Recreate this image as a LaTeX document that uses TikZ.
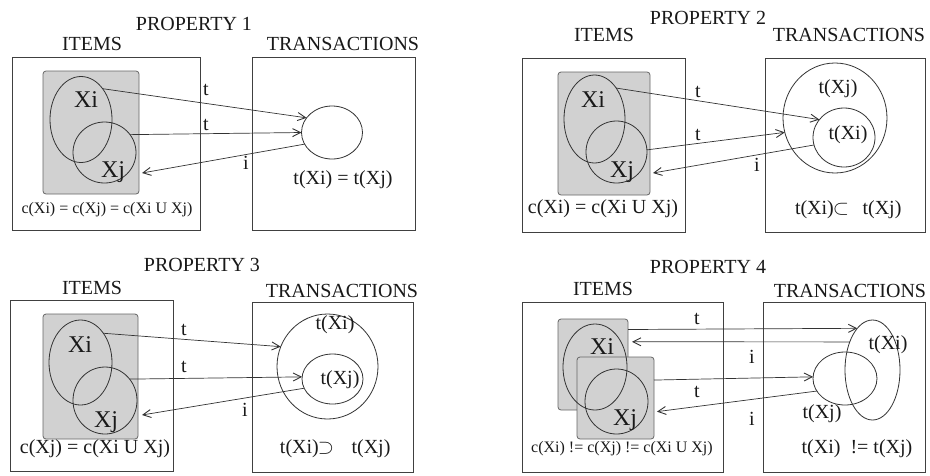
\documentclass[tikz,border=0pt]{standalone}
\usepackage{fontspec}
\setmainfont{Liberation Serif}
\usetikzlibrary{shapes.geometric,arrows.meta}
\begin{document}
\begin{tikzpicture}[x=1pt,y=-1pt,
  txt/.style={font=\fontsize{20}{22}\selectfont, inner sep=0pt, text=black!90},
  big/.style={font=\fontsize{24}{26}\selectfont, inner sep=0pt, text=black!90},
  small/.style={font=\fontsize{16}{18}\selectfont, inner sep=0pt, text=black!90},
  panel/.style={draw=black!75, line width=0.8pt, inner sep=0pt, outer sep=0pt},
  shade/.style={draw=black!60, fill=black!18, line width=0.8pt, rounded corners=3pt, inner sep=0pt, outer sep=0pt},
  oval/.style={ellipse, draw=black!80, line width=0.8pt, inner sep=0pt, outer sep=0pt},
  arr/.style={draw=black!80, line width=0.7pt, -{Straight Barb[length=8pt,width=8pt,line width=0.9pt]}},
]
\useasboundingbox[fill=white] (0,0) rectangle (930,475);

% ---------------- PROPERTY 1 ----------------
\node[txt] (p1title) at (194,24) {PROPERTY 1};
\node[txt] (p1ilab) at (92,44) {ITEMS};
\node[txt] (p1tlab) at (343,44) {TRANSACTIONS};
\node[panel, minimum width=188, minimum height=173] (p1items) at (106,143.5) {};
\node[panel, minimum width=163, minimum height=173] (p1trans) at (333.5,143.5) {};
\node[shade, minimum width=96, minimum height=123] (p1g) at (91,132.5) {};
\node[oval, minimum width=62, minimum height=86] (p1xi) at (81,119.5) {};
\node[oval, minimum width=63, minimum height=61] (p1xj) at (104.5,152.5) {};
\node[big] (p1xil) at (86,100) {Xi};
\node[big] (p1xjl) at (113,172) {Xj};
\node[oval, minimum width=61, minimum height=53] (p1tc) at (332,132.5) {};
\node[txt] (p1tt) at (343,180) {t(Xi) = t(Xj)};
\node[small] (p1c) at (107,210) {c(Xi) = c(Xj) = c(Xi U Xj)};
\coordinate (p1ie) at (142,173);
\draw[arr] (p1xi.55) -- (p1tc.150);
\draw[arr] (p1xj.35) -- (p1tc.180);
\draw[arr] (p1tc.203) -- (p1ie);
\node[txt] (p1l1) at (206,90) {t};
\node[txt] (p1l2) at (206,125) {t};
\node[txt] (p1l3) at (246,163) {i};

% ---------------- PROPERTY 2 ----------------
\node[txt] (p2title) at (708,18) {PROPERTY 2};
\node[txt] (p2ilab) at (604,35) {ITEMS};
\node[txt] (p2tlab) at (849,35) {TRANSACTIONS};
\node[panel, minimum width=163, minimum height=174] (p2items) at (603.5,145) {};
\node[panel, minimum width=160, minimum height=174] (p2trans) at (845,145) {};
\node[shade, minimum width=92, minimum height=123] (p2g) at (604,133.5) {};
\node[oval, minimum width=61, minimum height=88] (p2xi) at (594.5,119) {};
\node[oval, minimum width=61, minimum height=62] (p2xj) at (616.5,152) {};
\node[big] (p2xil) at (593,100) {Xi};
\node[big] (p2xjl) at (622,172) {Xj};
\node[oval, minimum width=104, minimum height=110] (p2tb) at (835,118) {};
\node[oval, minimum width=62, minimum height=59] (p2ts) at (844,137.5) {};
\node[txt] (p2tbl) at (838,89) {t(Xj)};
\node[txt] (p2tsl) at (848,135) {t(Xi)};
\node[txt] (p2c) at (603,209) {c(Xi) = c(Xi U Xj)};
\node[txt] (p2r1) at (822,210) {t(Xi)\kern-1pt$\subset$};
\node[txt] (p2r2) at (882,210) {t(Xj)};
\coordinate (p2ie) at (653,173);
\draw[arr] (p2xi.55) -- (p2ts.144);
\draw[arr] (p2xj.4) -- (p2tb.196);
\draw[arr] (p2ts.194) -- (p2ie);
\node[txt] (p2l1) at (698,92) {t};
\node[txt] (p2l2) at (698,135) {t};
\node[txt] (p2l3) at (757,165) {i};

% ---------------- PROPERTY 3 ----------------
\node[txt] (p3title) at (202,265) {PROPERTY 3};
\node[txt] (p3ilab) at (92,288) {ITEMS};
\node[txt] (p3tlab) at (342,291) {TRANSACTIONS};
\node[panel, minimum width=163, minimum height=171] (p3items) at (91.5,385.5) {};
\node[panel, minimum width=161, minimum height=170] (p3trans) at (332.5,387) {};
\node[shade, minimum width=95, minimum height=125] (p3g) at (90.5,376.5) {};
\node[oval, minimum width=63, minimum height=85] (p3xi) at (80.5,362.5) {};
\node[oval, minimum width=64, minimum height=67] (p3xj) at (105,400.5) {};
\node[big] (p3xil) at (80,345) {Xi};
\node[big] (p3xjl) at (106,422) {Xj};
\node[oval, minimum width=101, minimum height=105] (p3tb) at (327.5,366.5) {};
\node[oval, minimum width=61, minimum height=50] (p3ts) at (332.5,379) {};
\node[txt] (p3tbl) at (335,325) {t(Xi)};
\node[txt] (p3tsl) at (340,380) {t(Xj)};
\node[txt] (p3c) at (95,449) {c(Xj) = c(Xi U Xj)};
\node[txt] (p3r1) at (307,449) {t(Xi)\kern-1pt$\supset$};
\node[txt] (p3r2) at (371,449) {t(Xj)};
\coordinate (p3ie) at (142,415);
\draw[arr] (p3xi.52) -- (p3tb.157);
\draw[arr] (p3xj.41) -- (p3ts.176);
\draw[arr] (p3ts.198) -- (p3ie);
\node[txt] (p3l1) at (184,330) {t};
\node[txt] (p3l2) at (184,367) {t};
\node[txt] (p3l3) at (245,410) {i};

% ---------------- PROPERTY 4 ----------------
\node[txt] (p4title) at (708,267) {PROPERTY 4};
\node[txt] (p4ilab) at (603,289) {ITEMS};
\node[txt] (p4tlab) at (850,291) {TRANSACTIONS};
\node[panel, minimum width=201, minimum height=170] (p4items) at (622.5,387) {};
\node[panel, minimum width=162, minimum height=170] (p4trans) at (844,387) {};
\node[shade, minimum width=70, minimum height=91] (p4g1) at (593,364.5) {};
\node[shade, minimum width=77, minimum height=82] (p4g2) at (615.5,398) {};
\node[oval, minimum width=64, minimum height=86] (p4xi) at (595,367) {};
\node[oval, minimum width=63, minimum height=65] (p4xj) at (616.5,401.5) {};
\node[big] (p4xil) at (602,347) {Xi};
\node[big] (p4xjl) at (625,420) {Xj};
\node[oval, minimum width=55, minimum height=100] (p4tb) at (872.5,370) {};
\node[oval, minimum width=64, minimum height=53] (p4ts) at (845,378.5) {};
\node[txt] (p4tbl) at (888,345) {t(Xi)};
\node[txt] (p4tsl) at (822,414) {t(Xj)};
\node[small] (p4c) at (622,449) {c(Xi) != c(Xj) != c(Xi U Xj)};
\node[txt] (p4r) at (857,449) {t(Xi)\ \ != t(Xj)};
\draw[arr] (p4g1.45) -- (p4tb.110);
\draw[arr, shorten >=4pt] (p4tb.129) -- (p4g1.33);
\draw[arr] (p4g2.25) -- (p4ts.177);
\draw[arr, shorten >=3pt] (p4ts.204) -- (p4g2.-20);
\node[txt] (p4l1) at (697,319) {t};
\node[txt] (p4l2) at (752,357) {i};
\node[txt] (p4l3) at (697,392) {t};
\node[txt] (p4l4) at (752,419) {i};
\end{tikzpicture}
\end{document}
